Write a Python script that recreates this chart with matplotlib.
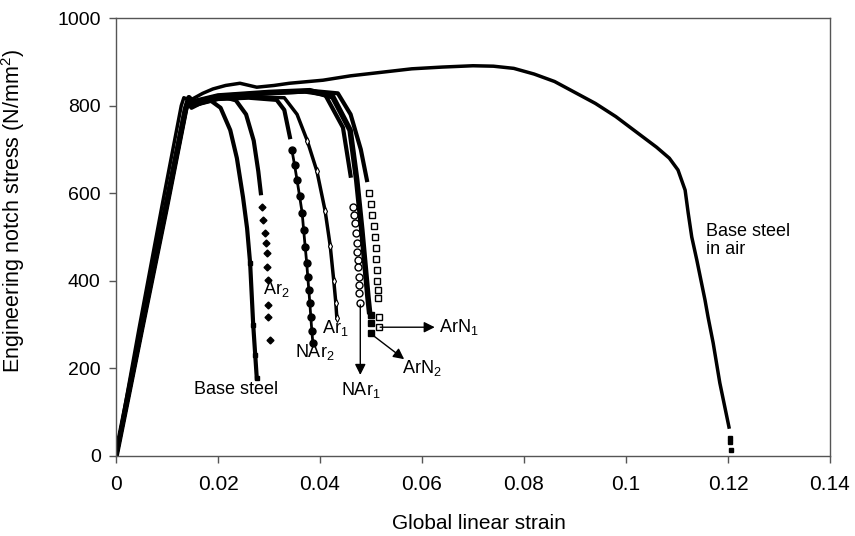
import numpy as np
import matplotlib
matplotlib.use('Agg')
import matplotlib.pyplot as plt

plt.rcParams.update({'font.family': 'Liberation Sans', 'font.size': 13})
plt.rcParams.update({'mathtext.fontset': 'custom', 'mathtext.rm': 'Liberation Sans',
                     'mathtext.it': 'Liberation Sans:italic'})

# base steel in air
air_strain = [0, 0.0045, 0.009, 0.0128, 0.0133, 0.0145, 0.017, 0.019, 0.0215, 0.0243, 0.0276, 0.031,
              0.034, 0.0406, 0.046, 0.052, 0.058, 0.064, 0.070, 0.074, 0.078, 0.082, 0.086, 0.090,
              0.094, 0.098, 0.102, 0.106, 0.1085, 0.1102, 0.1116, 0.1122, 0.1129, 0.1139, 0.1155,
              0.1161, 0.1171, 0.1184, 0.1202]
air_stress = [0, 290, 570, 800, 818, 812, 828, 838, 846, 851, 842, 846, 851, 858, 868, 876, 884, 888,
              891, 890, 885, 872, 855, 830, 805, 775, 740, 705, 680, 653, 607, 555, 500, 447, 356,
              317, 258, 167, 66]
air_tail_strain = [0.1204, 0.1204, 0.1205]
air_tail_stress = [41, 32, 14]

# base steel
base_strain = [0, 0.005, 0.0097, 0.0135, 0.014, 0.0148, 0.017, 0.0185, 0.0205, 0.0224, 0.0237,
               0.0249, 0.0257, 0.0263, 0.0269, 0.0273, 0.0276]
base_stress = [0, 290, 570, 790, 808, 795, 808, 812, 795, 744, 680, 591, 520, 440, 300, 230, 178]

# Ar2
ar2_strain = [0, 0.005, 0.0098, 0.0136, 0.0142, 0.015, 0.018, 0.021, 0.0235, 0.0255, 0.027, 0.0279,
              0.0284]
ar2_stress = [0, 290, 570, 790, 810, 800, 815, 820, 812, 780, 720, 650, 600]
ar2_tail_strain = [0.0286, 0.0289, 0.0292, 0.0294, 0.0296, 0.0297, 0.0298, 0.0299, 0.0299, 0.0301]
ar2_tail_stress = [568, 539, 509, 486, 463, 432, 402, 344, 318, 265]

# NAr2
nar2_strain = [0, 0.005, 0.0099, 0.0137, 0.0143, 0.015, 0.02, 0.026, 0.0315, 0.033, 0.0341]
nar2_stress = [0, 290, 570, 790, 812, 800, 815, 818, 813, 790, 728]
nar2_tail_strain = [0.0345, 0.035, 0.0355, 0.036, 0.0365, 0.0368, 0.0371, 0.0374, 0.0376, 0.0378,
                    0.038, 0.0382, 0.0384, 0.0386]
nar2_tail_stress = [698, 665, 630, 593, 555, 515, 477, 440, 409, 380, 350, 317, 285, 258]

# Ar1
ar1_strain = [0, 0.005, 0.0099, 0.0137, 0.0143, 0.015, 0.02, 0.027, 0.033, 0.0355, 0.0375, 0.0394,
              0.041, 0.042, 0.0427, 0.0431, 0.0433]
ar1_stress = [0, 290, 570, 790, 812, 800, 815, 820, 818, 780, 720, 650, 560, 480, 400, 350, 315]

# NAr1
nar1_strain = [0, 0.005, 0.0099, 0.0137, 0.0143, 0.015, 0.02, 0.03, 0.037, 0.041, 0.0445, 0.046]
nar1_stress = [0, 290, 570, 795, 815, 805, 820, 828, 832, 825, 750, 640]
nar1_tail_strain = [0.0465, 0.0467, 0.0469, 0.0471, 0.0472, 0.0473, 0.0474, 0.0475, 0.0476, 0.0477,
                    0.0477, 0.0478]
nar1_tail_stress = [569, 550, 531, 508, 486, 466, 447, 432, 409, 390, 371, 349]

# ArN2
arn2_strain = [0, 0.005, 0.0099, 0.0137, 0.0143, 0.015, 0.02, 0.03, 0.038, 0.0425, 0.0459, 0.0472,
               0.0482, 0.0494, 0.0497]
arn2_stress = [0, 290, 570, 795, 818, 808, 822, 830, 834, 820, 744, 630, 516, 363, 330]
arn2_tail_strain = [0.0500, 0.0500, 0.0500]
arn2_tail_stress = [322, 304, 281]

# ArN1
arn1_strain = [0, 0.005, 0.0099, 0.0137, 0.0143, 0.015, 0.02, 0.03, 0.038, 0.0435, 0.046, 0.048,
               0.0492]
arn1_stress = [0, 290, 570, 795, 818, 808, 822, 830, 834, 828, 780, 700, 630]
arn1_tail_strain = [0.0496, 0.0500, 0.0502, 0.0505, 0.0507, 0.0509, 0.0510, 0.0511, 0.0512, 0.0513,
                    0.0514, 0.0516, 0.0516]
arn1_tail_stress = [600, 575, 550, 525, 500, 475, 450, 425, 400, 380, 360, 317, 295]

fig = plt.figure(figsize=(8.55, 5.36), dpi=100)
ax = fig.add_axes([0.1357, 0.1493, 0.835, 0.8171])

k = 'black'
ax.plot(air_strain, air_stress, color=k, lw=2.5)
ax.plot(air_tail_strain, air_tail_stress, 's', color=k, ms=2.5)
ax.plot(base_strain, base_stress, color=k, lw=3)
ax.plot(base_strain[-4:], base_stress[-4:], 's', color=k, ms=3)
ax.plot(ar2_strain, ar2_stress, color=k, lw=3)
ax.plot(ar2_tail_strain, ar2_tail_stress, 'D', color=k, ms=3.5, ls='none')
ax.plot(nar2_strain, nar2_stress, color=k, lw=3)
ax.plot(nar2_tail_strain, nar2_tail_stress, 'o', color=k, ms=5, ls='-', lw=2)
ax.plot(ar1_strain, ar1_stress, color=k, lw=2.5)
ax.plot(ar1_strain[-7:], ar1_stress[-7:], 'd', color=k, mfc='white', ms=4, mew=0.8)
ax.plot(nar1_strain, nar1_stress, color=k, lw=3)
ax.plot(nar1_tail_strain, nar1_tail_stress, 'o', color=k, mfc='white', ms=5, mew=1, ls='none')
ax.plot(arn2_strain, arn2_stress, color=k, lw=4)
ax.plot(arn2_tail_strain, arn2_tail_stress, 's', color=k, ms=5, ls='none')
ax.plot(arn1_strain, arn1_stress, color=k, lw=3)
ax.plot(arn1_tail_strain, arn1_tail_stress, 's', color=k, mfc='white', ms=5, mew=1, ls='none')

ap = dict(arrowstyle='-|>', color=k, lw=1, mutation_scale=16, shrinkA=0, shrinkB=0)
ax.annotate('', xy=(0.0479, 185), xytext=(0.0479, 345), arrowprops=ap)
ax.annotate('', xy=(0.0565, 221), xytext=(0.0501, 278), arrowprops=ap)
ax.annotate('', xy=(0.0625, 294), xytext=(0.0518, 294), arrowprops=ap)

ax.text(0.0235, 151, 'Base steel', ha='center', va='center')
ax.text(0.0288, 381, r'Ar$_\mathrm{2}$', ha='left', va='center')
ax.text(0.039, 237, r'NAr$_\mathrm{2}$', ha='center', va='center')
ax.text(0.0404, 292, r'Ar$_\mathrm{1}$', ha='left', va='center')
ax.text(0.048, 150, r'NAr$_\mathrm{1}$', ha='center', va='center')
ax.text(0.0600, 200, r'ArN$_\mathrm{2}$', ha='center', va='center')
ax.text(0.0633, 294, r'ArN$_\mathrm{1}$', ha='left', va='center')
ax.text(0.1157, 492, 'Base steel\nin air', ha='left', va='center', linespacing=1.1)

ax.set_xlim(0, 0.14)
ax.set_ylim(0, 1000)
ax.set_xticks([0, 0.02, 0.04, 0.06, 0.08, 0.1, 0.12, 0.14])
ax.set_xticklabels(['0', '0.02', '0.04', '0.06', '0.08', '0.1', '0.12', '0.14'])
ax.set_yticks([0, 200, 400, 600, 800, 1000])
ax.tick_params(direction='out', length=5, width=1, color='#555555', pad=6)
ax.tick_params(axis='x', labelsize=15, pad=9)
ax.tick_params(axis='y', labelsize=14)
for s in ax.spines.values():
    s.set_color('#555555')
    s.set_linewidth(1)
ax.set_xlabel('Global linear strain', fontsize=15)
ax.set_ylabel('Engineering notch stress (N/mm$^\\mathrm{2}$)', fontsize=15.5)
ax.xaxis.set_label_coords(0.508, -0.132)
ax.yaxis.set_label_coords(-0.125, 0.56)

plt.savefig('out.png', dpi=100)
